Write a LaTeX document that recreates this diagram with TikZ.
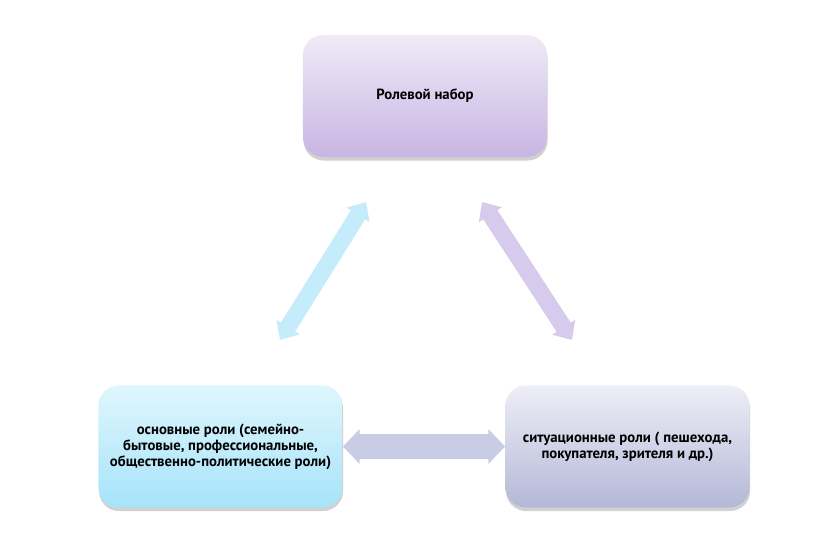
\documentclass[tikz,border=0pt]{standalone}
\usepackage{fontspec}
\setmainfont{PT Sans}
\usetikzlibrary{arrows.meta,shadows,positioning}

\definecolor{topupper}{RGB}{239,234,247}
\definecolor{toplower}{RGB}{200,181,227}
\definecolor{leftupper}{RGB}{223,246,253}
\definecolor{leftlower}{RGB}{166,227,249}
\definecolor{rightupper}{RGB}{238,238,247}
\definecolor{rightlower}{RGB}{180,184,214}
\definecolor{bluelink}{RGB}{196,236,250}
\definecolor{lilaclink}{RGB}{214,203,236}
\definecolor{greylink}{RGB}{200,204,228}

\begin{document}
\begin{tikzpicture}[x=0.025cm,y=-0.025cm,
  rolebox/.style={rounded corners=0.5cm, minimum width=6.1cm, minimum height=3.05cm,
    align=center, font=\bfseries\fontsize{10.5}{11.4}\selectfont,
    drop shadow={shadow xshift=0.4pt, shadow yshift=-2.5pt, opacity=0.3, fill=black!60}},
  slantlink/.style={line width=0.42cm,
    {Triangle[width=0.66cm,length=0.38cm]}-{Triangle[width=0.66cm,length=0.38cm]}},
  flatlink/.style={line width=0.6cm,
    {Triangle[width=0.84cm,length=0.42cm]}-{Triangle[width=0.84cm,length=0.42cm]}}]
\useasboundingbox (0,0) rectangle (818,551);

\node[rolebox, top color=topupper, bottom color=toplower] (set) at (425,96) {Ролевой набор};
\node[rolebox, top color=leftupper, bottom color=leftlower] (basic) at (220.5,446.5)
  {основные роли (семейно-\\бытовые, профессиональные,\\общественно-политические роли)};
\node[rolebox, top color=rightupper, bottom color=rightlower] (situ) at (627.5,446.5)
  {ситуационные роли ( пешехода,\\покупателя, зрителя и др.)};

\coordinate (bl) at (280,340);
\coordinate (bt) at (366,202);
\coordinate (lt) at (482,202);
\coordinate (lb) at (572,340);

\draw[slantlink, draw=bluelink, fill=bluelink] (bl) -- (bt);
\draw[slantlink, draw=lilaclink, fill=lilaclink] (lt) -- (lb);
\draw[flatlink, draw=greylink, fill=greylink] (basic.east) -- (situ.west);
\end{tikzpicture}
\end{document}
